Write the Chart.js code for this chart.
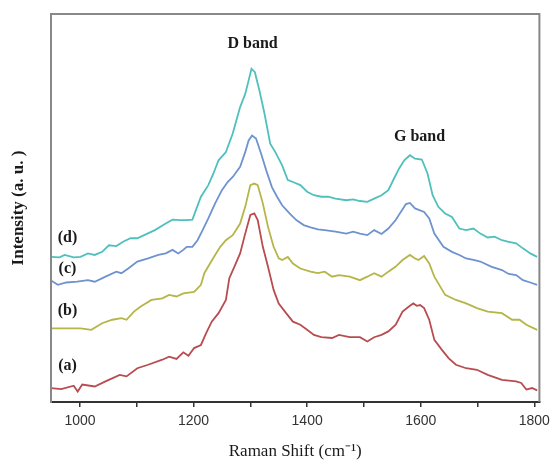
<!DOCTYPE html>
<html>
<head>
<meta charset="utf-8">
<script src="https://cdn.jsdelivr.net/npm/chart.js@4/dist/chart.umd.min.js"></script>
<style>
html,body{margin:0;padding:0;background:#fff;}
#wrap{width:556px;height:463px;}
</style>
</head>
<body>
<div id="wrap"><canvas id="c" width="556" height="463"></canvas></div>
<script>
// ---- data ----
const xTicks = [1000, 1100, 1200, 1300, 1400, 1500, 1600, 1700, 1800];
const xTickLabels = ['1000', '', '1200', '', '1400', '', '1600', '', '1800'];

const xA = [948,967,989,996,1004,1026,1045,1070,1082,1101,1120,1145,1157,1170,1182,1191,1201,1213,1222,1232,1244,1257,1263,1272,1282,1291,1300,1307,1313,1322,1331,1341,1350,1363,1375,1388,1400,1412,1425,1444,1456,1475,1493,1506,1518,1531,1543,1556,1568,1581,1587,1593,1599,1606,1615,1624,1637,1649,1662,1680,1699,1718,1743,1768,1777,1786,1796,1805];
const yA = [3.6,3.3,4.2,2.7,4.5,4.0,5.3,7.0,6.6,8.7,9.6,10.9,11.7,11.1,12.8,11.9,13.9,14.7,17.7,20.7,22.9,26.3,31.9,34.9,38.3,43.4,48.2,48.6,46.9,40.0,34.9,28.9,25.4,22.9,20.7,19.9,18.6,17.3,16.7,16.5,17.3,16.7,16.7,15.6,16.7,17.3,18.2,19.9,23.3,24.8,25.4,24.8,25.0,24.2,21.2,16.0,13.5,11.3,9.6,8.7,8.3,7.0,5.7,5.3,4.9,3.2,3.6,3.0];

const xB = [948,983,1001,1020,1039,1057,1073,1082,1095,1107,1126,1145,1157,1170,1182,1201,1213,1219,1229,1238,1247,1257,1269,1282,1291,1300,1307,1313,1322,1331,1341,1350,1356,1366,1375,1388,1406,1419,1431,1444,1456,1475,1493,1506,1518,1531,1543,1556,1568,1581,1590,1596,1606,1615,1624,1643,1662,1680,1699,1718,1743,1761,1774,1786,1805];
const yB = [19.0,19.0,19.0,18.6,20.3,21.2,21.6,21.2,23.3,24.6,26.3,26.7,27.6,27.2,28.0,28.4,30.2,33.2,35.7,37.9,40.0,41.7,43.0,46.0,50.3,55.9,56.3,55.9,51.2,45.2,40.0,37.0,36.6,37.4,35.7,34.4,33.6,33.2,33.6,32.3,32.7,32.3,31.4,32.3,33.2,32.3,33.6,34.9,36.6,37.9,37.0,36.6,37.6,35.7,32.3,27.6,26.3,25.4,24.2,23.3,22.9,21.2,21.2,19.9,18.6];

const xC = [948,961,976,995,1014,1026,1045,1064,1073,1085,1101,1120,1138,1151,1163,1173,1182,1188,1198,1207,1216,1226,1238,1250,1260,1269,1282,1291,1297,1303,1310,1319,1328,1338,1347,1356,1369,1381,1394,1406,1419,1431,1450,1469,1481,1493,1506,1518,1531,1543,1556,1565,1574,1581,1590,1606,1615,1624,1640,1655,1668,1680,1693,1705,1724,1743,1755,1768,1780,1793,1805];
const yC = [31.4,30.2,30.8,31.0,31.4,31.0,32.3,33.6,33.2,34.4,36.2,37.0,37.9,38.3,39.2,38.3,39.2,40.0,40.0,41.7,44.3,47.3,51.2,54.6,56.7,58.0,60.6,64.4,67.4,68.7,67.9,64.0,59.7,55.4,52.9,50.7,48.6,46.9,45.6,45.0,44.5,44.3,43.9,43.4,43.9,43.4,43.0,44.3,43.3,44.7,46.9,49.0,51.0,51.3,49.9,49.0,47.3,43.4,40.0,38.7,37.9,37.0,36.6,36.2,34.9,34.0,33.0,32.7,31.4,30.8,30.2];

const xD = [948,964,973,989,1001,1014,1026,1039,1051,1064,1076,1089,1101,1113,1132,1151,1163,1176,1188,1198,1204,1213,1226,1235,1244,1257,1269,1282,1291,1297,1302,1308,1316,1325,1335,1344,1356,1366,1375,1388,1400,1412,1425,1437,1450,1469,1481,1493,1506,1518,1531,1543,1553,1562,1571,1581,1590,1602,1612,1621,1631,1643,1655,1668,1680,1693,1705,1718,1730,1743,1755,1768,1780,1793,1805];
const yD = [37.4,37.3,37.9,37.3,37.4,38.3,37.9,38.7,40.4,40.2,41.3,42.2,42.2,43.0,44.3,46.0,47.0,46.9,46.9,47.0,49.4,52.9,55.9,58.9,62.3,64.4,69.2,76.0,79.4,82.9,85.9,85.0,80.3,74.3,66.6,64.4,61.0,57.2,56.7,55.9,54.2,53.3,52.9,52.9,52.4,52.0,52.2,51.8,51.6,52.4,53.3,54.6,57.6,60.2,62.3,63.6,62.7,62.5,58.9,53.3,50.3,48.6,47.7,44.7,44.3,44.7,43.4,42.4,42.6,41.7,41.3,40.9,39.6,38.3,37.4];

const seriesNames = ['(a)', '(b)', '(c)', '(d)'];
const seriesColors = ['#b84c50', '#b5b548', '#6e93cf', '#4fc0bc'];

// annotation texts anchored in data coordinates
const labelTexts = ['(d)', '(c)', '(b)', '(a)', 'D band', 'G band'];
const labelX = [978, 978, 978, 978, 1304, 1598];
const labelY = [42.4, 34.2, 23.4, 9.3, 92.3, 68.4];

// ---- chart ----
function toPts(xs, ys) { return xs.map((x, i) => ({x: x, y: ys[i]})); }
const allX = [xA, xB, xC, xD];
const allY = [yA, yB, yC, yD];

const datasets = seriesNames.map((n, i) => ({
  label: n,
  data: toPts(allX[i], allY[i]),
  borderColor: seriesColors[i],
  borderWidth: 1.8,
  pointRadius: 0,
  tension: 0,
  fill: false
}));

const annotPlugin = {
  id: 'annot',
  afterDatasetsDraw(chart) {
    const {ctx, chartArea: a, scales: {x, y}} = chart;
    ctx.save();
    // frame (top / right / left in gray)
    ctx.strokeStyle = '#888';
    ctx.lineWidth = 2;
    ctx.beginPath();
    ctx.moveTo(a.left, a.bottom);
    ctx.lineTo(a.left, a.top);
    ctx.lineTo(a.right, a.top);
    ctx.lineTo(a.right, a.bottom);
    ctx.stroke();
    // texts
    ctx.fillStyle = '#1a1a1a';
    ctx.font = 'bold 16px "Liberation Serif", "Times New Roman", serif';
    ctx.textAlign = 'center';
    ctx.textBaseline = 'middle';
    labelTexts.forEach((t, i) => {
      ctx.fillText(t, x.getPixelForValue(labelX[i]), y.getPixelForValue(labelY[i]));
    });
    ctx.restore();
  }
};

new Chart(document.getElementById('c'), {
  type: 'line',
  data: {datasets: datasets},
  options: {
    responsive: false,
    animation: false,
    layout: {padding: {top: 14, right: 13, left: 0, bottom: 0}},
    plugins: {legend: {display: false}, tooltip: {enabled: false}},
    scales: {
      x: {
        type: 'linear',
        min: 949,
        max: 1809,
        afterBuildTicks: s => { s.ticks = xTicks.map(v => ({value: v})); },
        afterFit: s => { s.height = 61; },
        ticks: {
          autoSkip: false,
          maxRotation: 0,
          padding: 6,
          color: '#333',
          font: {family: '"Liberation Sans", Arial, sans-serif', size: 14},
          callback: (v) => { const k = xTicks.indexOf(v); return k >= 0 ? xTickLabels[k] : ''; }
        },
        grid: {display: true, drawOnChartArea: false, drawTicks: true, tickLength: 5, color: '#333', lineWidth: 1.5},
        border: {display: true, color: '#333', width: 2},
        title: {
          display: true,
          text: 'Raman Shift (cm\u207B\u00B9)',
          color: '#1a1a1a',
          font: {family: '"Liberation Serif", "Times New Roman", serif', size: 17},
          padding: {top: 0, bottom: 1}
        }
      },
      y: {
        type: 'linear',
        min: 0,
        max: 100,
        afterFit: s => { s.width = 51; },
        ticks: {display: false},
        grid: {display: false},
        border: {display: true, color: '#888', width: 2},
        title: {
          display: true,
          text: 'Intensity (a. u. )',
          color: '#1a1a1a',
          font: {family: '"Liberation Serif", "Times New Roman", serif', size: 17, weight: 'bold'},
          padding: {top: 8, bottom: 0}
        }
      }
    }
  },
  plugins: [annotPlugin]
});
</script>
</body>
</html>
